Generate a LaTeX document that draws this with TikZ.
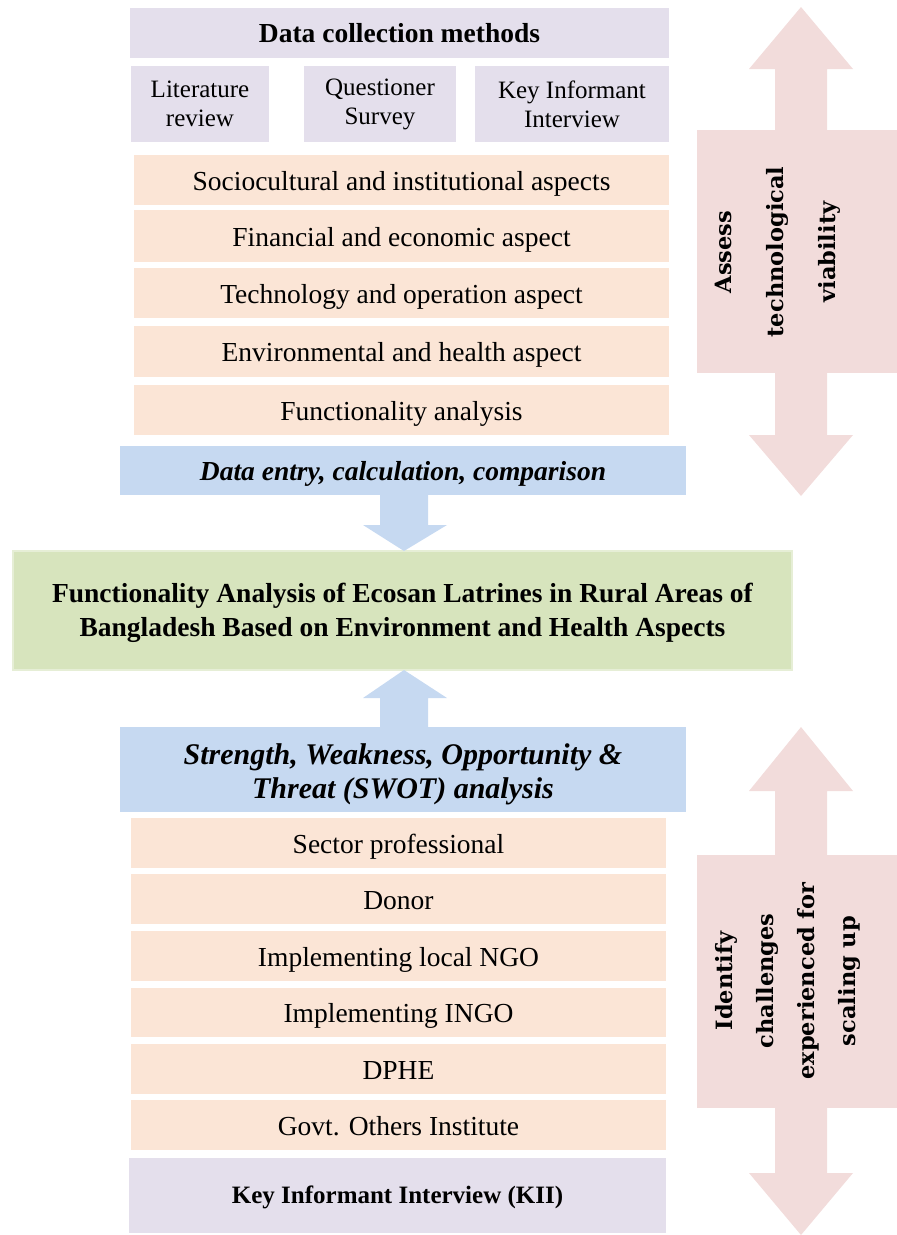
\documentclass[tikz,border=0pt]{standalone}
\usepackage{fontspec}
\setmainfont{Liberation Serif}
\newfontfamily\sideface{DejaVu Serif}
\usetikzlibrary{calc}
\definecolor{lav}{HTML}{E4DFEC}
\definecolor{peach}{HTML}{FBE5D6}
\definecolor{paleblue}{HTML}{C6D9F1}
\definecolor{olive}{HTML}{D7E4BD}
\definecolor{oliveedge}{HTML}{E6EED6}
\definecolor{rose}{HTML}{F2DCDB}
\begin{document}
\begin{tikzpicture}[x=1pt,y=-1pt,
  cell/.style={inner sep=0pt, outer sep=0pt, align=center, font=\fontsize{27.5}{32}\selectfont},
  methodbox/.style={cell, fill=lav},
  smallcell/.style={font=\fontsize{25}{29}\selectfont},
  oneline/.style={text height=24pt, text depth=4pt},
  aspectbox/.style={cell, oneline, fill=peach, minimum width=535pt, minimum height=50pt},
  processbox/.style={cell, fill=paleblue, minimum width=566pt},
  sidebox/.style={cell, fill=rose, minimum width=200pt},
  sidetext/.style={inner sep=0pt, rotate=90, align=center},
  blockarrow/.style={fill=paleblue},
  sidearrow/.style={fill=rose}
]
\useasboundingbox (0,0) rectangle (897,1235);

% ---------- right-hand double arrows ----------
\fill[sidearrow] (801,7) -- (853,69) -- (827,69) -- (827,435) -- (853,435) -- (801,496)
  -- (749,435) -- (775,435) -- (775,69) -- (749,69) -- cycle;
\node[sidebox, minimum height=243pt] (viab) at (797,251.5) {};
\node[sidetext, font=\sideface\bfseries\fontsize{22.5}{52}\selectfont] (viabtxt) at (778,252)
  {Assess\\technological\\viability};

\fill[sidearrow] (801,727) -- (853,791) -- (827,791) -- (827,1173) -- (853,1173) -- (801,1235)
  -- (749,1173) -- (775,1173) -- (775,791) -- (749,791) -- cycle;
\node[sidebox, minimum height=253pt] (scal) at (797,981.5) {};
\node[sidetext, font=\sideface\bfseries\fontsize{22.5}{41}\selectfont] (scaltxt) at (788,981)
  {Identify\\challenges\\experienced for\\scaling up};

% ---------- data collection ----------
\node[methodbox, minimum width=539pt, minimum height=50pt, font=\bfseries\fontsize{27.5}{32}\selectfont]
  (dcm) at (399.5,33) {Data collection methods};
\node[methodbox, smallcell, minimum width=138pt, minimum height=76pt] (lit) at (200,104) {Literature\\review};
\node[methodbox, smallcell, minimum width=152pt, minimum height=76pt] (qs) at (380,104) {Questioner\\Survey};
\node[methodbox, smallcell, minimum width=194pt, minimum height=76pt] (kiim) at (572,104) {Key Informant\\Interview};

\node[aspectbox] (socio) at (401.5,180) {Sociocultural and institutional aspects};
\node[aspectbox, minimum height=52pt] (fin) at (401.5,236) {Financial and economic aspect};
\node[aspectbox] (tech) at (401.5,293) {Technology and operation aspect};
\node[aspectbox, minimum height=51pt] (env) at (401.5,351.5) {Environmental and health aspect};
\node[aspectbox] (func) at (401.5,410) {Functionality analysis};

\node[processbox, oneline, minimum height=49pt, font=\bfseries\itshape\fontsize{27.5}{32}\selectfont]
  (entry) at (403,470.5) {Data entry, calculation, comparison};

% ---------- central result ----------
\node[cell, fill=olive, draw=oliveedge, line width=2pt, minimum width=779pt, minimum height=119pt]
  (result) at (402.5,610.5) {};
\node[cell, font=\bfseries\fontsize{27.5}{34}\selectfont] (resulttxt) at ($(result.center)+(0,2.5)$)
  {Functionality Analysis of Ecosan Latrines in Rural Areas of\\Bangladesh Based on Environment and Health Aspects};

% ---------- SWOT and key informants ----------
\node[processbox, minimum height=85pt] (swot) at (403,769.5) {};
\node[cell, font=\bfseries\itshape\fontsize{30}{34}\selectfont] (swottxt) at ($(swot.center)+(0,5)$)
  {Strength, Weakness, Opportunity \&\\Threat (SWOT) analysis};

\node[aspectbox] (sector) at (398.5,843) {Sector professional};
\node[aspectbox] (donor) at (398.5,899) {Donor};
\node[aspectbox] (lngo) at (398.5,956) {Implementing local NGO};
\node[aspectbox, minimum height=49pt] (ingo) at (398.5,1012.5) {Implementing INGO};
\node[aspectbox] (dphe) at (398.5,1069) {DPHE};
\node[aspectbox] (govt) at (398.5,1125) {Govt. Others Institute};

\node[methodbox, minimum width=537pt, minimum height=75pt, text height=20pt, text depth=4pt,
  font=\bfseries\fontsize{25}{29}\selectfont]
  (kii) at (397.5,1195.5) {Key Informant Interview (KII)};

% ---------- block arrows into the result ----------
\fill[blockarrow] ($(entry.south)+(-23,0)$) -- ($(entry.south)+(25,0)$) -- ($(entry.south)+(25,30)$)
  -- ($(entry.south)+(44,30)$) -- ($(result.north)+(1.5,0)$) -- ($(entry.south)+(-40,30)$)
  -- ($(entry.south)+(-23,30)$) -- cycle;
\fill[blockarrow] ($(swot.north)+(-23,0)$) -- ($(swot.north)+(25,0)$) -- ($(swot.north)+(25,-29)$)
  -- ($(swot.north)+(44,-29)$) -- ($(result.south)+(1.5,0)$) -- ($(swot.north)+(-40,-29)$)
  -- ($(swot.north)+(-23,-29)$) -- cycle;
\end{tikzpicture}
\end{document}
